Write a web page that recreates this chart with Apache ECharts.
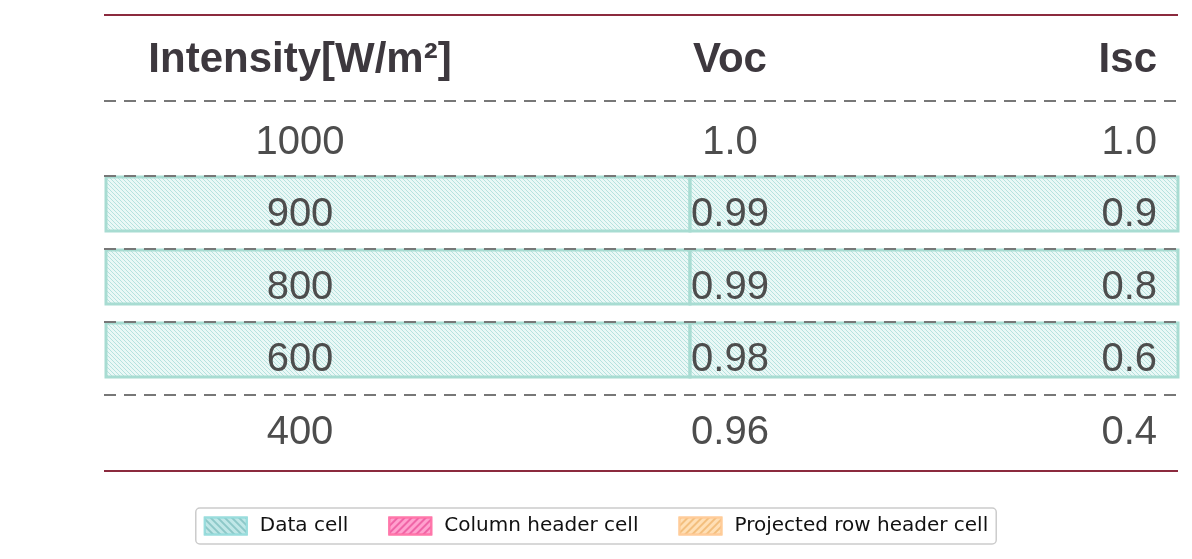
<!DOCTYPE html>
<html><head><meta charset="utf-8">
<script src="https://cdn.jsdelivr.net/npm/echarts@6/dist/echarts.min.js"></script>
<style>html,body{margin:0;background:#fff}#c{width:1192px;height:559px}</style>
</head><body><div id="c"></div>
<script>
  // 表格数据
  var headers = ['Intensity[W/m²]', 'Voc', 'Isc'];
  var intensity = ['1000', '900', '800', '600', '400'];
  var voc = ['1.0', '0.99', '0.99', '0.98', '0.96'];
  var isc = ['1.0', '0.9', '0.8', '0.6', '0.4'];
  var dataCellRows = [1, 2, 3];   // 标注为 Data cell 的行 (intensity 下标)
  var legendNames = ['Data cell', 'Column header cell', 'Projected row header cell'];

  // 行中心(坐标轴单位)
  var rowY = [60, 143, 215, 288, 360, 433];
  var sepY = [101, 176, 249, 322, 395];

  function hatch(stroke, fill, dir) {
    var cv = document.createElement('canvas');
    cv.width = 8; cv.height = 8;
    var g = cv.getContext('2d');
    g.fillStyle = fill; g.fillRect(0, 0, 8, 8);
    g.strokeStyle = stroke; g.lineWidth = 1;
    for (var k = -8; k <= 16; k += 4) {
      g.beginPath();
      if (dir > 0) { g.moveTo(k, 0); g.lineTo(k + 8, 8); }
      else { g.moveTo(k, 8); g.lineTo(k + 8, 0); }
      g.stroke();
    }
    return cv;
  }
  var tealPat = hatch('rgba(120,200,195,0.45)', 'rgba(220,243,240,0.6)', 1);

  var chart = echarts.init(document.getElementById('c'));
  var font = '"Liberation Sans", Arial, sans-serif';

  function renderItem(params, api) {
    var ch = [];
    function P(x, y) { return api.coord([x, y]); }
    var tl = P(104, 15), br = P(1178, 471);
    // 高亮行
    dataCellRows.forEach(function (r) {
      var a = P(106, sepY[r] + 1), b = P(1178, sepY[r + 1] - 18);
      var m = P(690, 0);
      ch.push({type: 'rect', shape: {x: a[0], y: a[1], width: m[0] - a[0], height: b[1] - a[1]},
        style: {fill: {image: tealPat, repeat: 'repeat'}, stroke: '#a8dcd2', lineWidth: 3}});
      ch.push({type: 'rect', shape: {x: m[0], y: a[1], width: b[0] - m[0], height: b[1] - a[1]},
        style: {fill: {image: tealPat, repeat: 'repeat'}, stroke: '#a8dcd2', lineWidth: 3}});
    });
    // 分隔线
    sepY.forEach(function (y) {
      var a = P(104, y), b = P(1178, y);
      ch.push({type: 'line', shape: {x1: a[0], y1: a[1], x2: b[0], y2: b[1]},
        style: {stroke: '#777', lineWidth: 2, lineDash: [12, 8]}});
    });
    ch.push({type: 'line', shape: {x1: tl[0], y1: tl[1], x2: br[0], y2: tl[1]}, style: {stroke: '#8b2a3e', lineWidth: 2}});
    ch.push({type: 'line', shape: {x1: tl[0], y1: br[1], x2: br[0], y2: br[1]}, style: {stroke: '#8b2a3e', lineWidth: 2}});
    // 文本
    function txt(x, y, s, align, head) {
      var p = P(x, y);
      ch.push({type: 'text', x: p[0], y: p[1], style: {text: s, align: align, verticalAlign: 'middle',
        fill: head ? '#3d383e' : '#4d4d4d', font: (head ? 'bold 42px ' : '40px ') + font}});
    }
    txt(300, rowY[0], headers[0], 'center', true);
    txt(730, rowY[0], headers[1], 'center', true);
    txt(1157, rowY[0], headers[2], 'right', true);
    for (var i = 0; i < intensity.length; i++) {
      txt(300, rowY[i + 1], intensity[i], 'center');
      txt(730, rowY[i + 1], voc[i], 'center');
      txt(1157, rowY[i + 1], isc[i], 'right');
    }
    return {type: 'group', children: ch};
  }

  chart.setOption({
    animation: false,
    grid: {left: 0, right: 0, top: 0, bottom: 0},
    xAxis: {type: 'value', min: 0, max: 1192, show: false},
    yAxis: {type: 'value', min: 0, max: 559, inverse: true, show: false},
    legend: {
      data: legendNames, bottom: 15, left: 'center', icon: 'rect', itemWidth: 42, itemHeight: 17, itemGap: 40,
      borderColor: '#ccc', borderWidth: 1.5, borderRadius: 4, padding: [8, 8],
      textStyle: {fontFamily: 'DejaVu Sans', fontSize: 20, color: '#111', padding: [0, 0, 0, 8]}
    },
    series: [
      {type: 'custom', renderItem: renderItem, data: [[0, 0]], silent: true},
      {name: legendNames[0], type: 'bar', data: [],
        itemStyle: {color: 'rgba(150,215,215,0.6)', borderColor: '#9dd', borderWidth: 1,
          decal: {symbol: 'rect', dashArrayX: [1, 0], dashArrayY: [2, 3], rotation: Math.PI / 4, color: 'rgba(90,170,170,0.5)'}}},
      {name: legendNames[1], type: 'bar', data: [],
        itemStyle: {color: 'rgba(255,130,190,0.75)', borderColor: '#f7a', borderWidth: 1,
          decal: {symbol: 'rect', dashArrayX: [1, 0], dashArrayY: [2, 3], rotation: -Math.PI / 4, color: 'rgba(230,60,140,0.6)'}}},
      {name: legendNames[2], type: 'bar', data: [],
        itemStyle: {color: 'rgba(255,210,150,0.7)', borderColor: '#fc9', borderWidth: 1,
          decal: {symbol: 'rect', dashArrayX: [1, 0], dashArrayY: [2, 3], rotation: -Math.PI / 4, color: 'rgba(235,170,90,0.6)'}}}
    ]
  });
</script>
</body></html>
